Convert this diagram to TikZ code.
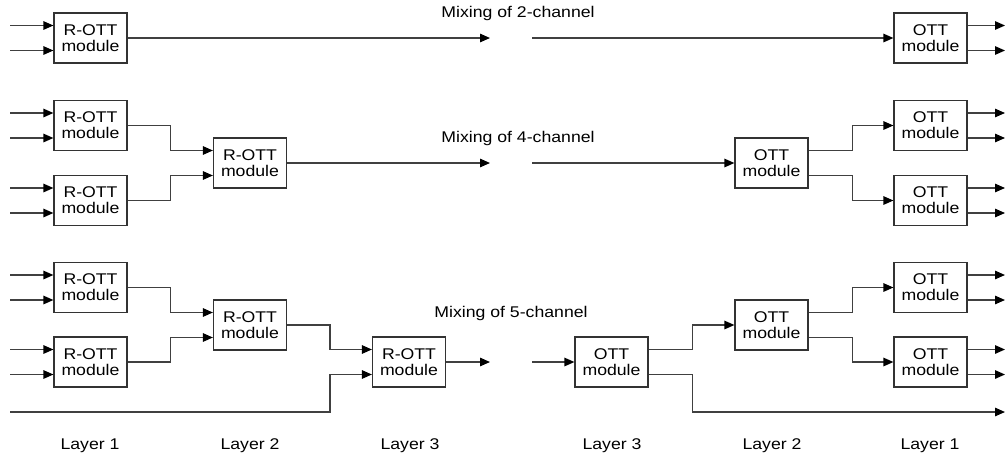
\documentclass[tikz,border=0pt]{standalone}
\usepackage{fontspec}
\setmainfont{Liberation Sans}[FakeStretch=1.14]
\usetikzlibrary{arrows.meta}
\begin{document}
\begin{tikzpicture}[x=1pt,y=-1pt,
  line/.style={draw=black!75,line width=1.3pt},
  arr/.style={line,-{Triangle[length=10pt,width=8.5pt,fill=black,color=black]}},
  modbox/.style={draw=black!80,line width=1.2pt,fill=white,minimum width=73pt,minimum height=50pt,inner sep=0pt,align=center,font=\fontsize{15.5}{16}\selectfont},
  lbl/.style={anchor=base,font=\fontsize{15.5}{16}\selectfont,inner sep=0pt}]
\useasboundingbox (0,0) rectangle (1006,456);

% ---------- Row 1 ----------
\node[modbox] (A1) at (90.5,38) {R-OTT\\module};
\node[modbox] (B1) at (930.5,38) {OTT\\module};
\coordinate (i1a) at (10,25.5);
\coordinate (i1b) at (10,50.5);
\coordinate (m1a) at (490,38);
\coordinate (m1b) at (532,38);
\coordinate (o1a) at (1005,25.5);
\coordinate (o1b) at (1005,50.5);
\draw[arr] (i1a) -- ([yshift=12.5pt]A1.west);
\draw[arr] (i1b) -- ([yshift=-12.5pt]A1.west);
\draw[arr] (A1.east) -- (m1a);
\draw[arr] (m1b) -- (B1.west);
\draw[arr] ([yshift=12.5pt]B1.east) -- (o1a);
\draw[arr] ([yshift=-12.5pt]B1.east) -- (o1b);
\node[lbl] (t1) at (518,17.5) {Mixing of 2-channel};

% ---------- Row 2 ----------
\node[modbox] (A2a) at (90.5,125.5) {R-OTT\\module};
\node[modbox] (A2b) at (90.5,200.5) {R-OTT\\module};
\node[modbox] (A2c) at (250,163) {R-OTT\\module};
\node[modbox] (B2c) at (771.5,163) {OTT\\module};
\node[modbox] (B2a) at (930.5,125.5) {OTT\\module};
\node[modbox] (B2b) at (930.5,200.5) {OTT\\module};
\coordinate (i2a) at (10,113);
\coordinate (i2b) at (10,138);
\coordinate (i2c) at (10,188);
\coordinate (i2d) at (10,213);
\coordinate (m2a) at (490,163);
\coordinate (m2b) at (532,163);
\coordinate (o2a) at (1005,113);
\coordinate (o2b) at (1005,138);
\coordinate (o2c) at (1005,188);
\coordinate (o2d) at (1005,213);
\draw[arr] (i2a) -- ([yshift=12.5pt]A2a.west);
\draw[arr] (i2b) -- ([yshift=-12.5pt]A2a.west);
\draw[arr] (i2c) -- ([yshift=12.5pt]A2b.west);
\draw[arr] (i2d) -- ([yshift=-12.5pt]A2b.west);
\draw[arr] (A2a.east) -- ++(43,0) |- ([yshift=12.5pt]A2c.west);
\draw[arr] (A2b.east) -- ++(43,0) |- ([yshift=-12.5pt]A2c.west);
\draw[arr] (A2c.east) -- (m2a);
\draw[arr] (m2b) -- (B2c.west);
\draw[arr] ([yshift=12.5pt]B2c.east) -- ++(44,0) |- (B2a.west);
\draw[arr] ([yshift=-12.5pt]B2c.east) -- ++(44,0) |- (B2b.west);
\draw[arr] ([yshift=12.5pt]B2a.east) -- (o2a);
\draw[arr] ([yshift=-12.5pt]B2a.east) -- (o2b);
\draw[arr] ([yshift=12.5pt]B2b.east) -- (o2c);
\draw[arr] ([yshift=-12.5pt]B2b.east) -- (o2d);
\node[lbl] (t2) at (518,142) {Mixing of 4-channel};

% ---------- Row 3 ----------
\node[modbox] (A3a) at (90.5,287.5) {R-OTT\\module};
\node[modbox] (A3b) at (90.5,362) {R-OTT\\module};
\node[modbox] (A3c) at (250,325) {R-OTT\\module};
\node[modbox] (A3d) at (409,362) {R-OTT\\module};
\node[modbox] (B3d) at (611.5,362) {OTT\\module};
\node[modbox] (B3c) at (771.5,325) {OTT\\module};
\node[modbox] (B3a) at (930.5,287.5) {OTT\\module};
\node[modbox] (B3b) at (930.5,362) {OTT\\module};
\coordinate (i3a) at (10,275);
\coordinate (i3b) at (10,300);
\coordinate (i3c) at (10,349.5);
\coordinate (i3d) at (10,374.5);
\coordinate (i3e) at (10,412);
\coordinate (m3a) at (490,362);
\coordinate (m3b) at (532,362);
\coordinate (o3a) at (1005,275);
\coordinate (o3b) at (1005,300);
\coordinate (o3c) at (1005,349.5);
\coordinate (o3d) at (1005,374.5);
\coordinate (o3e) at (1005,412);
\draw[arr] (i3a) -- ([yshift=12.5pt]A3a.west);
\draw[arr] (i3b) -- ([yshift=-12.5pt]A3a.west);
\draw[arr] (i3c) -- ([yshift=12.5pt]A3b.west);
\draw[arr] (i3d) -- ([yshift=-12.5pt]A3b.west);
\draw[arr] (A3a.east) -- ++(43,0) |- ([yshift=12.5pt]A3c.west);
\draw[arr] (A3b.east) -- ++(43,0) |- ([yshift=-12.5pt]A3c.west);
\draw[arr] (A3c.east) -- ++(43,0) |- ([yshift=12.5pt]A3d.west);
\draw[arr] (i3e) -| ++(320,-37.5) -- ([yshift=-12.5pt]A3d.west);
\draw[arr] (A3d.east) -- (m3a);
\draw[arr] (m3b) -- (B3d.west);
\draw[arr] ([yshift=12.5pt]B3d.east) -- ++(44,0) |- (B3c.west);
\draw[arr] ([yshift=-12.5pt]B3d.east) -- ++(44,0) |- (o3e);
\draw[arr] ([yshift=12.5pt]B3c.east) -- ++(44,0) |- (B3a.west);
\draw[arr] ([yshift=-12.5pt]B3c.east) -- ++(44,0) |- (B3b.west);
\draw[arr] ([yshift=12.5pt]B3a.east) -- (o3a);
\draw[arr] ([yshift=-12.5pt]B3a.east) -- (o3b);
\draw[arr] ([yshift=12.5pt]B3b.east) -- (o3c);
\draw[arr] ([yshift=-12.5pt]B3b.east) -- (o3d);
\node[lbl] (t3) at (511,317) {Mixing of 5-channel};

% ---------- Layer labels ----------
\node[lbl] (L1a) at (90,449) {Layer 1};
\node[lbl] (L2a) at (250,449) {Layer 2};
\node[lbl] (L3a) at (410,449) {Layer 3};
\node[lbl] (L3b) at (612,449) {Layer 3};
\node[lbl] (L2b) at (772,449) {Layer 2};
\node[lbl] (L1b) at (930,449) {Layer 1};
\end{tikzpicture}
\end{document}
